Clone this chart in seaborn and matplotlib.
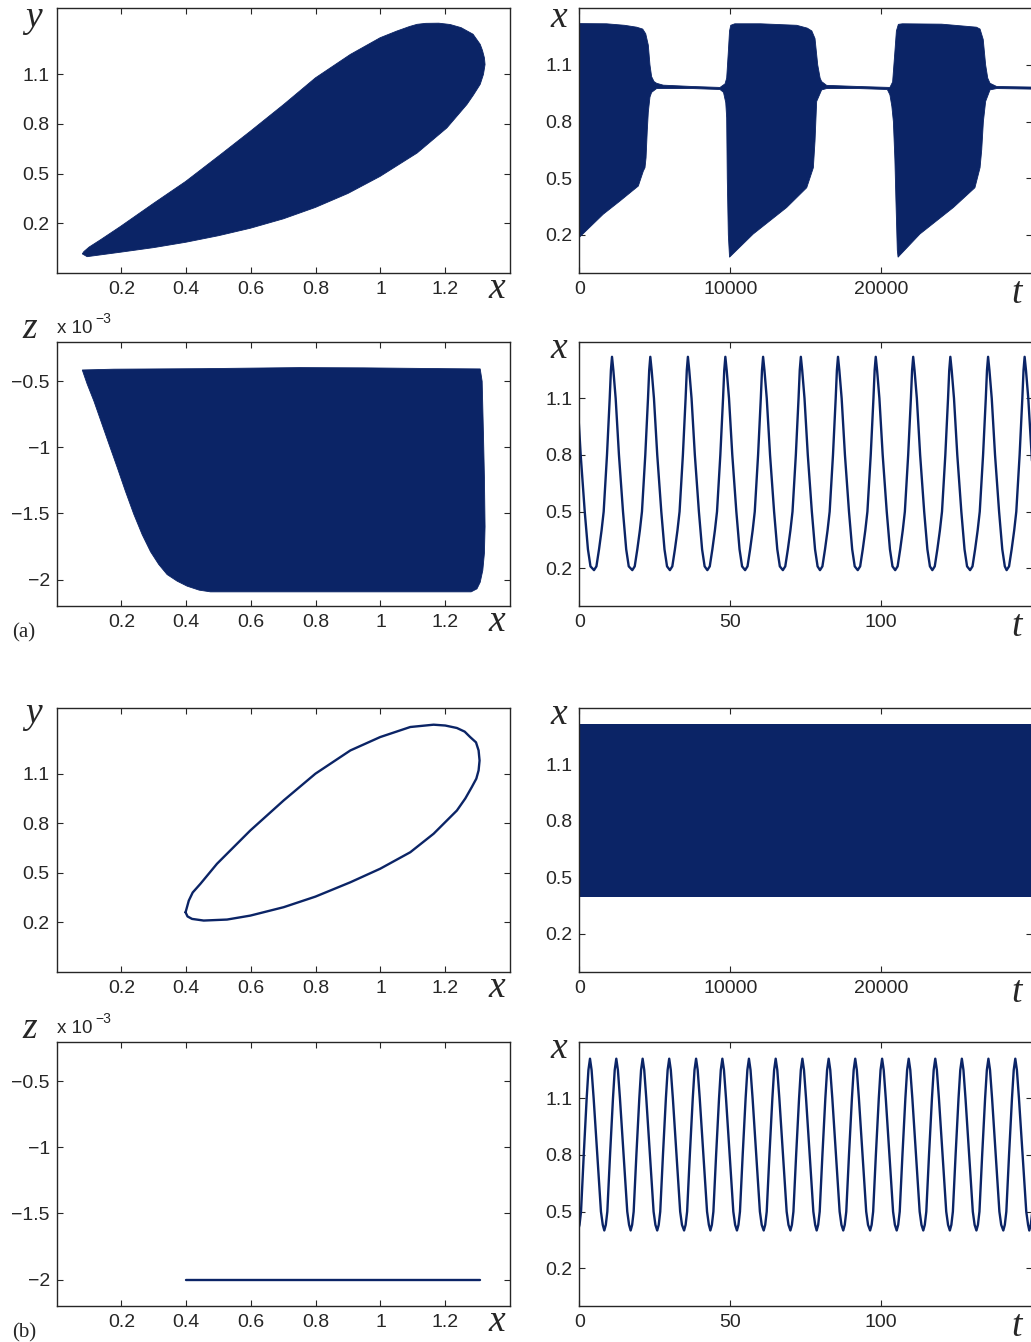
import numpy as np
import matplotlib
matplotlib.use("Agg")
import matplotlib.pyplot as plt
import seaborn as sns

NAVY = "#0b2466"
INK = "#262626"

# ---------------- (a) x-y projection: outline of the filled region ----------------
a_xy_x = [0.079, 0.094, 0.197, 0.300, 0.398, 0.500, 0.598, 0.700, 0.799, 0.900,
          0.999, 1.113, 1.205, 1.267, 1.287, 1.308, 1.318, 1.323, 1.321, 1.315, 1.308,
          1.286, 1.249, 1.215, 1.180, 1.140, 1.113, 1.090, 1.050, 0.999, 0.907, 0.799,
          0.701, 0.598, 0.506, 0.398, 0.300, 0.197, 0.135, 0.100, 0.084]
a_xy_y = [0.014, -0.003, 0.024, 0.052, 0.084, 0.124, 0.169, 0.226, 0.295, 0.380,
          0.483, 0.624, 0.776, 0.918, 0.975, 1.040, 1.100, 1.160, 1.200, 1.245, 1.282,
          1.343, 1.383, 1.402, 1.410, 1.409, 1.403, 1.390, 1.362, 1.322, 1.221, 1.079,
          0.918, 0.756, 0.615, 0.452, 0.321, 0.180, 0.099, 0.055, 0.028]

# ---------------- (a) x-z projection (z in units of 1e-3) ----------------
a_xz_x = [0.079, 0.176, 0.450, 0.750, 0.950, 1.200, 1.308, 1.314, 1.318, 1.321, 1.323,
          1.321, 1.316, 1.308, 1.298, 1.280, 1.000, 0.700, 0.475, 0.440, 0.403, 0.372,
          0.341, 0.315, 0.290, 0.264, 0.238, 0.212, 0.187, 0.160, 0.135, 0.115, 0.094]
a_xz_z = [-0.414, -0.408, -0.404, -0.396, -0.398, -0.404, -0.406, -0.500, -0.900, -1.227, -1.600,
          -1.800, -1.930, -2.020, -2.070, -2.093, -2.093, -2.093, -2.093, -2.080, -2.050, -2.012,
          -1.962, -1.885, -1.790, -1.660, -1.505, -1.330, -1.152, -0.965, -0.790, -0.650, -0.520]
Z_UNIT = 1e-3

# ---------------- (a) x(t), long run: envelope of the fast oscillation ----------------
a_upper_t = [0, 1800, 3000, 3800, 4200, 4400, 4570, 4680, 4790, 4950, 5120, 5560, 7500, 9320,
             9650, 9760, 9870, 9950, 10030, 10300, 12000, 14400, 15100, 15400, 15610, 15790,
             15950, 16050, 16380, 18500, 20570, 20750, 20900, 21000, 21130, 21400, 24000,
             26300, 26540, 26750, 26910, 27050, 27200, 27640, 30000]
a_upper_x = [1.319, 1.318, 1.310, 1.300, 1.290, 1.265, 1.205, 1.100, 1.038, 1.012, 1.003, 0.993, 0.986, 0.981,
             1.000, 1.030, 1.170, 1.280, 1.310, 1.318, 1.318, 1.310, 1.295, 1.280, 1.240, 1.100,
             1.030, 1.012, 0.992, 0.986, 0.981, 1.010, 1.170, 1.280, 1.315, 1.318, 1.316,
             1.300, 1.290, 1.235, 1.100, 1.030, 1.003, 0.986, 0.983]
a_lower_t = [0, 1590, 2700, 3910, 4020, 4240, 4350, 4420, 4500, 4570, 4680, 4790, 5120,
             7500, 9320, 9550, 9700, 9760, 9800, 9870, 9950, 10050, 11520, 13730, 15060,
             15500, 15610, 15720, 16050, 16380, 18500, 20400, 20570, 20700, 20800, 20900,
             20970, 21060, 21110, 21200, 22560, 24770, 26200, 26540, 26650, 26760, 26910,
             27200, 27640, 30000]
a_lower_x = [0.187, 0.310, 0.380, 0.459, 0.486, 0.538, 0.556, 0.608, 0.750, 0.850, 0.930, 0.955, 0.975,
             0.975, 0.970, 0.955, 0.900, 0.820, 0.500, 0.200, 0.082, 0.090, 0.205, 0.345, 0.450,
             0.556, 0.696, 0.907, 0.968, 0.975, 0.975, 0.970, 0.942, 0.880, 0.800, 0.600,
             0.380, 0.120, 0.082, 0.090, 0.205, 0.345, 0.450, 0.556, 0.650, 0.800, 0.907,
             0.968, 0.975, 0.972]

# ---------------- (a) x(t), short window ----------------
a_trough_t = [-7.8, 4.87, 17.55, 30.0, 42.4, 54.9, 67.4, 79.7, 92.2, 104.6, 116.9, 129.4, 141.5]
a_cycle_dt = [0.0, 0.8, 1.66, 2.5, 3.2, 4.3, 5.2, 5.6, 5.96, 6.4, 7.17, 8.26, 9.6, 10.66, 11.5]
a_cycle_x = [0.19, 0.21, 0.30, 0.40, 0.50, 0.80, 1.10, 1.25, 1.32, 1.25, 1.10, 0.80, 0.50, 0.30, 0.21]

# ---------------- (b) x-y projection: single closed orbit ----------------
b_xy_x = [0.398, 0.404, 0.418, 0.454, 0.526, 0.598, 0.701, 0.799, 0.907, 0.999, 1.092,
          1.164, 1.236, 1.262, 1.282, 1.296, 1.303, 1.306, 1.303, 1.295, 1.277, 1.260,
          1.236, 1.200, 1.164, 1.092, 0.999, 0.907, 0.799, 0.701, 0.598, 0.495, 0.444,
          0.420, 0.408, 0.398]
b_xy_y = [0.260, 0.235, 0.220, 0.210, 0.216, 0.240, 0.291, 0.355, 0.442, 0.524, 0.624,
          0.736, 0.877, 0.950, 1.019, 1.070, 1.120, 1.180, 1.241, 1.290, 1.322, 1.355,
          1.377, 1.392, 1.397, 1.383, 1.322, 1.241, 1.100, 0.938, 0.756, 0.554, 0.433,
          0.380, 0.331, 0.260]

# ---------------- (b) x-z projection ----------------
b_xz_x = [0.400, 1.308]
b_xz_z = [-2.0, -2.0]

# ---------------- (b) x(t), long run: constant-width band ----------------
b_band_t = [0, 30000]
b_band_lower = [0.395, 0.395]
b_band_upper = [1.312, 1.312]

# ---------------- (b) x(t), short window ----------------
b_trough_t = [-0.43, 8.28, 17.0, 25.8, 34.7, 43.4, 52.2, 61.06, 69.9, 78.6, 87.4,
              96.3, 105.1, 113.9, 122.7, 131.5, 140.4, 149.0]
b_cycle_dt = [0.0, 0.5, 1.0, 1.9, 2.87, 3.45, 3.97, 4.5, 5.18, 6.4, 7.6, 8.2]
b_cycle_x = [0.40, 0.43, 0.50, 0.80, 1.10, 1.25, 1.31, 1.25, 1.10, 0.80, 0.50, 0.43]

# tick values and labels
xy_xticks = [0.2, 0.4, 0.6, 0.8, 1.0, 1.2]
xy_xlabels = ["0.2", "0.4", "0.6", "0.8", "1", "1.2"]
x_vals = [0.2, 0.5, 0.8, 1.1]
x_labels = ["0.2", "0.5", "0.8", "1.1"]
z_ticks = [-0.5, -1.0, -1.5, -2.0]
z_labels = ["\u22120.5", "\u22121", "\u22121.5", "\u22122"]
t_long_ticks = [0, 10000, 20000]
t_short_ticks = [0, 50, 100]


def tile_cycles(troughs, dt, vals):
    t = np.concatenate([tr + np.asarray(dt) for tr in troughs])
    v = np.concatenate([np.asarray(vals) for _ in troughs])
    return t, v


sns.set_theme(style="ticks")
plt.rcParams["font.family"] = ["Liberation Sans", "DejaVu Sans"]
plt.rcParams["axes.edgecolor"] = INK
plt.rcParams["axes.linewidth"] = 1.0

W, H = 1031, 1342
fig = plt.figure(figsize=(W / 100, H / 100), dpi=100)
fig.patch.set_facecolor("white")

LEFT_COL = (56.7, 510.0)
RIGHT_COL = (579.3, 1032.3)
ROWS = [(8.3, 272.7), (341.7, 606.0), (707.7, 971.7), (1041.7, 1306.0)]
TICK_FS = 14


def make_axes(col, row):
    l, r = col
    t, b = row
    return fig.add_axes([l / W, 1 - b / H, (r - l) / W, (b - t) / H])


def style(ax):
    ax.tick_params(direction="in", length=4, width=0.8, top=True, right=True,
                   colors=INK, labelsize=TICK_FS, labelcolor=INK)
    ax.tick_params(axis="x", pad=6)
    ax.tick_params(axis="y", pad=5)
    for s in ax.spines.values():
        s.set_visible(True)
        s.set_color(INK)
        s.set_linewidth(1.0)
    ax.set_xlabel("")
    ax.set_ylabel("")
    ax.set_facecolor("white")


def ftext(xp, yp, s, **kw):
    fig.text(xp / W, 1 - yp / H, s, **kw)


var_kw = dict(family=["Liberation Serif"], style="italic", fontsize=27,
              ha="center", va="baseline", color=INK)


def phase_axes(ax, is_z):
    ax.set_xlim(0, 1.4)
    ax.set_xticks(xy_xticks)
    ax.set_xticklabels(xy_xlabels)
    if is_z:
        ax.set_ylim(-2.2 * Z_UNIT, -0.2 * Z_UNIT)
        ax.set_yticks([v * Z_UNIT for v in z_ticks])
        ax.set_yticklabels(z_labels)
    else:
        ax.set_ylim(-0.1, 1.5)
        ax.set_yticks(x_vals)
        ax.set_yticklabels(x_labels)
    style(ax)


def time_axes(ax, long_run):
    if long_run:
        ax.set_xlim(0, 30000)
        ax.set_xticks(t_long_ticks)
        ax.set_xticklabels([str(v) for v in t_long_ticks])
    else:
        ax.set_xlim(0, 150)
        ax.set_xticks(t_short_ticks)
        ax.set_xticklabels([str(v) for v in t_short_ticks])
    ax.set_ylim(0, 1.4)
    ax.set_yticks(x_vals)
    ax.set_yticklabels(x_labels)
    style(ax)


def phase_labels(row, is_z):
    top, bot = row
    if is_z:
        ftext(30, top - 4, "z", **var_kw)
        ftext(57, top - 9, "x 10", fontsize=13.5, ha="left", va="baseline", color=INK)
        ftext(95, top - 19, "\u22123", fontsize=10, ha="left", va="baseline", color=INK)
    else:
        # keep the top-row label inside the canvas
        ftext(33, max(top + 15, 27), "y", **var_kw)
    ftext(497, bot + 25, "x", **var_kw)


def time_labels(row):
    top, bot = row
    ftext(559, max(top + 16, 27), "x", **var_kw)
    ftext(1017, bot + 30, "t", **var_kw)


# ---- row 1: (a) x-y and long x(t)
ax = make_axes(LEFT_COL, ROWS[0])
ax.fill(a_xy_x, a_xy_y, color=NAVY, lw=0.6, ec=NAVY)
phase_axes(ax, False)
phase_labels(ROWS[0], False)

ax = make_axes(RIGHT_COL, ROWS[0])
poly_t = list(a_upper_t) + list(a_lower_t)[::-1]
poly_x = list(a_upper_x) + list(a_lower_x)[::-1]
ax.fill(poly_t, poly_x, color=NAVY, lw=0.6, ec=NAVY)
time_axes(ax, True)
time_labels(ROWS[0])

# ---- row 2: (a) x-z and short x(t)
ax = make_axes(LEFT_COL, ROWS[1])
ax.fill(a_xz_x, [v * Z_UNIT for v in a_xz_z], color=NAVY, lw=0.6, ec=NAVY)
phase_axes(ax, True)
phase_labels(ROWS[1], True)

ax = make_axes(RIGHT_COL, ROWS[1])
ta, xa = tile_cycles(a_trough_t, a_cycle_dt, a_cycle_x)
sns.lineplot(x=ta, y=xa, ax=ax, color=NAVY, lw=1.7, sort=False, estimator=None)
time_axes(ax, False)
time_labels(ROWS[1])

ftext(24, ROWS[1][1] + 31, "(a)", family=["Liberation Serif"], fontsize=15,
      ha="center", va="baseline", color=INK)

# ---- row 3: (b) x-y and long x(t)
ax = make_axes(LEFT_COL, ROWS[2])
sns.lineplot(x=b_xy_x, y=b_xy_y, ax=ax, color=NAVY, lw=1.7, sort=False, estimator=None)
phase_axes(ax, False)
phase_labels(ROWS[2], False)

ax = make_axes(RIGHT_COL, ROWS[2])
ax.fill_between(b_band_t, b_band_lower, b_band_upper, color=NAVY, lw=0)
time_axes(ax, True)
time_labels(ROWS[2])

# ---- row 4: (b) x-z and short x(t)
ax = make_axes(LEFT_COL, ROWS[3])
sns.lineplot(x=b_xz_x, y=[v * Z_UNIT for v in b_xz_z], ax=ax, color=NAVY, lw=1.7,
             sort=False, estimator=None)
phase_axes(ax, True)
phase_labels(ROWS[3], True)

ax = make_axes(RIGHT_COL, ROWS[3])
tb, xb = tile_cycles(b_trough_t, b_cycle_dt, b_cycle_x)
sns.lineplot(x=tb, y=xb, ax=ax, color=NAVY, lw=1.7, sort=False, estimator=None)
time_axes(ax, False)
time_labels(ROWS[3])

ftext(24, ROWS[3][1] + 31, "(b)", family=["Liberation Serif"], fontsize=15,
      ha="center", va="baseline", color=INK)

fig.savefig("out.png", dpi=100, facecolor="white")
